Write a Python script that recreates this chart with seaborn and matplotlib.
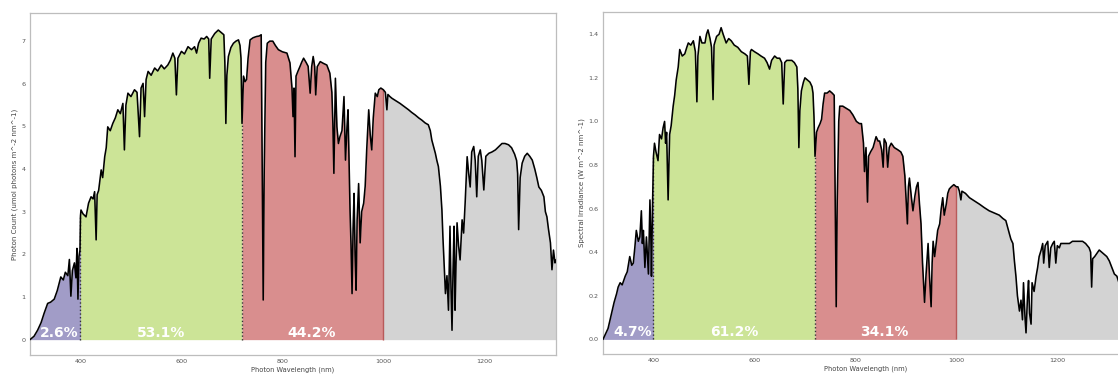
import numpy as np
import pandas as pd
import matplotlib
matplotlib.use("Agg")
import matplotlib.pyplot as plt
import seaborn as sns

sns.set_style("white")
plt.rcParams["font.family"] = ["DejaVu Sans"]

# ---------------------------------------------------------------------------
# Solar spectrum, photon flux (umol photons m^-2 nm^-1)
# ---------------------------------------------------------------------------
wl_photon = [
    300, 308, 315, 322, 328, 335, 341, 348, 354, 361, 366, 370, 375, 378, 381,
    384, 388, 391, 393, 395, 397, 399, 400, 401, 405, 411, 416, 421, 425, 428,
    431, 433, 436, 441, 444, 448, 451, 454, 459, 464, 469, 474, 479, 484, 487,
    490, 494, 500, 507, 512, 517, 520, 524, 527, 530, 534, 540, 547, 553, 560,
    566, 573, 578, 583, 587, 590, 593, 600, 606, 613, 620, 626, 630, 634, 639,
    645, 650, 654, 656, 659, 666, 673, 679, 684, 686, 688, 690, 693, 698, 703,
    708, 713, 716, 718, 720, 723, 726, 729, 732, 736, 742, 749, 754, 758, 760,
    762, 764, 767, 770, 775, 781, 786, 792, 800, 809, 815, 819, 821, 823, 825,
    827, 831, 835, 838, 842, 847, 851, 855, 858, 861, 864, 866, 869, 875, 881,
    888, 894, 898, 900, 902, 905, 908, 911, 914, 918, 922, 925, 928, 930, 934,
    936, 938, 940, 942, 944, 946, 948, 951, 954, 957, 961, 964, 967, 971, 974,
    977, 980, 984, 988, 991, 995, 1000, 1004, 1007, 1009, 1013, 1017, 1025,
    1033, 1041, 1050, 1056, 1063, 1070, 1076, 1083, 1089, 1093, 1096, 1100,
    1103, 1106, 1109, 1113, 1116, 1118, 1120, 1123, 1126, 1129, 1132, 1134,
    1136, 1138, 1140, 1142, 1144, 1146, 1149, 1152, 1156, 1159, 1162, 1166,
    1169, 1172, 1175, 1179, 1182, 1185, 1188, 1192, 1195, 1199, 1203, 1209,
    1215, 1222, 1228, 1235, 1241, 1248, 1254, 1260, 1264, 1266, 1268, 1271,
    1275, 1280, 1285, 1290, 1295, 1300, 1304, 1308, 1313, 1318, 1321, 1324,
    1327, 1331, 1334, 1337, 1340, 1342,
]
photon = [
    0.00, 0.08, 0.22, 0.40, 0.62, 0.85, 0.88, 0.95, 1.15, 1.47, 1.40, 1.58, 1.50, 1.88, 1.02,
    1.62, 1.80, 1.45, 2.14, 0.95, 1.95, 2.10, 2.90, 3.04, 2.95, 2.88, 3.20, 3.35, 3.30, 3.47,
    2.34, 3.40, 3.50, 3.98, 3.80, 4.29, 4.50, 4.99, 4.90, 5.07, 5.20, 5.39, 5.30, 5.54, 4.45,
    5.50, 5.78, 5.70, 5.86, 5.80, 4.76, 5.90, 6.01, 5.23, 6.10, 6.29, 6.20, 6.37, 6.30, 6.44,
    6.35, 6.44, 6.55, 6.72, 6.60, 5.74, 6.60, 6.76, 6.70, 6.87, 6.80, 6.87, 6.72, 6.95, 7.07,
    7.05, 7.11, 7.05, 6.13, 7.05, 7.18, 7.26, 7.20, 7.15, 6.50, 5.07, 6.20, 6.64, 6.85, 6.95,
    7.00, 7.03, 6.90, 6.60, 5.07, 6.18, 6.05, 6.10, 6.60, 7.03, 7.08, 7.11, 7.12, 7.15, 4.00,
    0.93, 4.00, 6.50, 6.95, 7.00, 7.00, 6.90, 6.80, 6.75, 6.72, 6.49, 5.90, 5.23, 5.90, 4.29,
    6.18, 6.30, 6.41, 6.50, 6.60, 6.50, 6.41, 5.78, 6.40, 6.64, 6.40, 5.74, 6.40, 6.52, 6.48,
    6.44, 6.25, 5.80, 5.07, 3.90, 6.13, 4.99, 4.60, 4.76, 4.90, 5.70, 4.21, 5.00, 5.39, 3.04,
    2.20, 1.08, 2.60, 3.43, 2.00, 1.16, 2.80, 3.66, 2.27, 3.00, 3.20, 3.60, 4.45, 5.39, 4.80,
    4.45, 5.20, 5.78, 5.70, 5.86, 5.90, 5.86, 5.80, 5.39, 5.75, 5.70, 5.66, 5.60,
    5.54, 5.47, 5.39, 5.33, 5.27, 5.20, 5.15, 5.08, 5.04, 4.90, 4.68, 4.50,
    4.37, 4.20, 4.06, 3.60, 3.04, 2.40, 1.87, 1.08, 1.50, 0.69, 2.66, 1.20,
    0.22, 1.60, 2.66, 0.69, 1.80, 2.74, 2.20, 1.87, 2.81, 2.50, 3.20, 4.29,
    3.90, 3.58, 4.40, 4.53, 4.20, 3.35, 4.30, 4.45, 4.20, 3.51, 4.30, 4.37,
    4.40, 4.45, 4.52, 4.60, 4.60, 4.57, 4.50, 4.35, 4.20, 3.90, 2.58, 3.80,
    4.14, 4.30, 4.37, 4.30, 4.21, 4.00, 3.80, 3.58, 3.50, 3.35, 3.00, 2.88,
    2.60, 2.27, 1.64, 2.10, 1.80, 1.87,
]

# ---------------------------------------------------------------------------
# Solar spectrum, spectral irradiance (W m^-2 nm^-1)
# ---------------------------------------------------------------------------
wl_energy = [
    300, 310, 317, 322, 327, 330, 334, 338, 344, 348, 353, 357, 360, 363, 366,
    370, 373, 376, 378, 380, 383, 386, 390, 393, 395, 396, 398, 400, 402, 405,
    409, 412, 416, 419, 422, 424, 426, 429, 432, 435, 439, 442, 445, 449, 452,
    457, 462, 466, 469, 474, 479, 483, 486, 488, 492, 496, 502, 505, 508, 512,
    515, 518, 520, 525, 530, 534, 538, 544, 549, 554, 560, 567, 574, 581, 586,
    589, 592, 594, 600, 607, 613, 620, 625, 630, 634, 640, 645, 650, 654, 657,
    660, 664, 669, 674, 679, 684, 686, 688, 690, 693, 697, 700, 705, 710, 714,
    716, 718, 720, 723, 726, 730, 733, 736, 739, 744, 749, 754, 758, 760, 762,
    764, 767, 769, 775, 782, 789, 795, 802, 808, 812, 816, 818, 821, 824, 826,
    830, 835, 841, 845, 848, 852, 855, 857, 861, 864, 867, 871, 877, 884, 890,
    894, 898, 901, 903, 905, 907, 911, 914, 918, 921, 924, 927, 930, 933, 937,
    940, 944, 947, 950, 952, 954, 957, 960, 963, 967, 970, 973, 976, 980, 983,
    986, 990, 995, 1000, 1003, 1006, 1009, 1011, 1018, 1026, 1036, 1046, 1055,
    1065, 1075, 1085, 1092, 1098, 1102, 1105, 1108, 1112, 1115, 1118, 1121,
    1125, 1128, 1131, 1133, 1136, 1138, 1141, 1143, 1145, 1148, 1150, 1154,
    1158, 1161, 1164, 1168, 1171, 1173, 1176, 1181, 1184, 1187, 1191, 1194,
    1197, 1200, 1204, 1207, 1215, 1224, 1230, 1237, 1244, 1250, 1256, 1263,
    1266, 1268, 1270, 1274, 1277, 1283, 1288, 1293, 1298, 1303, 1308, 1313,
    1318, 1322, 1326, 1330, 1334, 1338, 1342,
]
irradiance = [
    0.00, 0.05, 0.12, 0.17, 0.21, 0.24, 0.26, 0.25, 0.29, 0.31, 0.38, 0.34, 0.35, 0.42, 0.50,
    0.45, 0.47, 0.59, 0.44, 0.50, 0.33, 0.47, 0.30, 0.64, 0.45, 0.29, 0.60, 0.84, 0.90, 0.86,
    0.82, 0.94, 0.92, 0.97, 1.00, 0.90, 0.95, 0.64, 0.94, 0.98, 1.07, 1.12, 1.19, 1.25, 1.33,
    1.30, 1.31, 1.34, 1.36, 1.35, 1.37, 1.32, 1.09, 1.30, 1.39, 1.36, 1.36, 1.40, 1.42, 1.38,
    1.34, 1.10, 1.35, 1.39, 1.40, 1.43, 1.40, 1.36, 1.38, 1.37, 1.35, 1.34, 1.32, 1.31, 1.30,
    1.17, 1.32, 1.33, 1.32, 1.31, 1.30, 1.29, 1.27, 1.24, 1.28, 1.30, 1.29, 1.29, 1.27, 1.08,
    1.27, 1.28, 1.28, 1.28, 1.27, 1.25, 1.15, 0.88, 1.05, 1.14, 1.18, 1.20, 1.19, 1.18, 1.16,
    1.13, 1.02, 0.84, 0.95, 0.97, 0.99, 1.01, 1.08, 1.13, 1.13, 1.14, 1.13, 1.12, 0.64, 0.15,
    0.64, 1.00, 1.07, 1.07, 1.06, 1.05, 1.03, 1.00, 0.99, 0.99, 0.90, 0.77, 0.88, 0.63, 0.84,
    0.86, 0.88, 0.93, 0.91, 0.91, 0.87, 0.79, 0.92, 0.90, 0.79, 0.88, 0.90, 0.88, 0.87, 0.86,
    0.84, 0.75, 0.62, 0.53, 0.70, 0.74, 0.65, 0.59, 0.66, 0.70, 0.72, 0.62, 0.53, 0.35, 0.17,
    0.30, 0.44, 0.28, 0.15, 0.35, 0.45, 0.38, 0.44, 0.50, 0.53, 0.60, 0.65, 0.57, 0.62, 0.67,
    0.69, 0.70, 0.71, 0.70, 0.70, 0.68, 0.64, 0.68, 0.67, 0.65, 0.635, 0.62, 0.605,
    0.59, 0.58, 0.57, 0.555, 0.545, 0.51, 0.485, 0.46, 0.44, 0.36, 0.29, 0.20,
    0.13, 0.18, 0.09, 0.26, 0.10, 0.03, 0.20, 0.27, 0.12, 0.07, 0.26, 0.22,
    0.29, 0.33, 0.38, 0.41, 0.44, 0.35, 0.43, 0.45, 0.33, 0.42, 0.44, 0.45,
    0.35, 0.43, 0.42, 0.44, 0.44, 0.44, 0.45, 0.45, 0.45, 0.45, 0.44, 0.42,
    0.40, 0.24, 0.37, 0.38, 0.39, 0.41, 0.40, 0.39, 0.38, 0.36, 0.33, 0.30,
    0.29, 0.26, 0.25, 0.20, 0.15, 0.18, 0.17,
]

# Spectral bands and the share of the total that falls in each labelled band
band_edges = [300, 400, 720, 1000, 1342]
band_colors = ["#a19cc7", "#cce497", "#d98e8e", "#d3d3d3"]
photon_shares = [2.6, 53.1, 44.2]
irradiance_shares = [4.7, 61.2, 34.1]
share_label_x = [358, 560, 858]

W, H = 1118, 376
fig = plt.figure(figsize=(W / 100, H / 100), dpi=100)
ax_left = fig.add_axes([30 / W, 21 / H, 526 / W, 342 / H])
ax_right = fig.add_axes([603 / W, 22 / H, 526 / W, 342 / H])


def draw_panel(ax, wl, values, shares, ylabel, ylim, yticks, yfmt):
    df = pd.DataFrame({"wavelength": wl, "value": values})

    # coloured bands under the curve
    for lo, hi, color in zip(band_edges[:-1], band_edges[1:], band_colors):
        part = df[(df.wavelength >= lo) & (df.wavelength <= hi)]
        ax.fill_between(part.wavelength, 0, part.value, color=color, lw=0, zorder=1)

    # spectrum outline
    sns.lineplot(data=df, x="wavelength", y="value", ax=ax, color="black",
                 linewidth=1.15, estimator=None, legend=False, zorder=3)

    # band boundaries
    for edge, color, style in [(400, "#333333", ":"), (720, "#333333", ":"),
                               (1000, "#b85a5a", "-")]:
        top = df.loc[df.wavelength == edge, "value"].iloc[0]
        ax.vlines(edge, 0, top, colors=color, linestyles=style, lw=1.0, zorder=2)

    # band shares
    for x, s in zip(share_label_x, shares):
        ax.annotate(f"{s}%", xy=(x, 0), xytext=(0, 3), textcoords="offset pixels",
                    ha="center", va="baseline", color="white", fontsize=10,
                    fontweight="bold", zorder=4)

    ax.set_xlim(300, 1342)
    ax.set_ylim(*ylim)
    ax.set_xticks([400, 600, 800, 1000, 1200])
    ax.set_yticks(yticks)
    ax.set_yticklabels([yfmt.format(t) for t in yticks])
    ax.tick_params(axis="both", length=0, labelsize=4.6, labelcolor="#555555", pad=3)
    ax.set_xlabel("Photon Wavelength (nm)", fontsize=4.8, color="#444444", labelpad=1.5)
    ax.set_ylabel(ylabel, fontsize=5.0, color="#444444", labelpad=3)
    for sp in ax.spines.values():
        sp.set_color("#bdbdbd")
        sp.set_linewidth(0.9)


draw_panel(ax_left, wl_photon, photon, photon_shares,
           "Photon Count (umol photons m^-2 nm^-1)",
           (-0.36, 7.66), list(range(0, 8)), "{:d}")
draw_panel(ax_right, wl_energy, irradiance, irradiance_shares,
           "Spectral Irradiance (W m^-2 nm^-1)",
           (-0.067, 1.502), [0.0, 0.2, 0.4, 0.6, 0.8, 1.0, 1.2, 1.4], "{:.1f}")

fig.savefig("out.png", dpi=100)
